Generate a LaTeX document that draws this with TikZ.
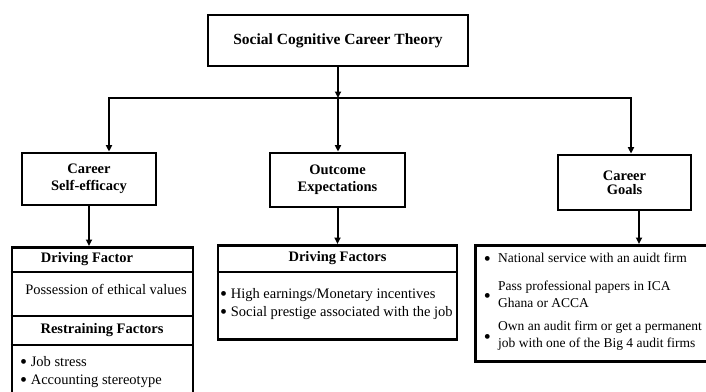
\documentclass[tikz,border=0pt]{standalone}
\usepackage{fontspec}
\setmainfont{Liberation Serif}
\usetikzlibrary{arrows.meta}

\newcommand{\bigdot}{{\fontsize{20}{17}\selectfont\textbullet}}
\newcommand{\lowdot}{\raisebox{-2.5pt}[0pt][0pt]{\bigdot}}

\begin{document}
\begin{tikzpicture}[x=1pt,y=-1pt,
		box/.style={draw,line width=2.8pt,inner sep=0pt,align=center,font=\fontsize{14.5}{17}\selectfont\bfseries},
		arr/.style={line width=2pt,-{Triangle[length=6.5pt,width=6pt]}},
		txt/.style={inner sep=0pt,font=\fontsize{14.5}{18}\selectfont},
		head/.style={inner sep=0pt,font=\fontsize{14.5}{17}\selectfont\bfseries},
		goal/.style={inner sep=0pt,anchor=west,align=left,font=\fontsize{13.5}{17}\selectfont,
			label={[inner sep=0pt,label distance=7pt,yshift=-3pt]left:\bigdot}}]
		\clip (0,0) rectangle (706,391);

		\node[box,minimum width=260pt,minimum height=51pt,font=\fontsize{15.5}{18}\selectfont\bfseries] (sct) at (338,40.5) {Social Cognitive Career Theory};
		\node[box,minimum width=134pt,minimum height=52pt] (cse) at (89,179) {Career\\Self-efficacy};
		\node[box,minimum width=135pt,minimum height=54pt] (oe) at (337.5,180) {Outcome\\Expectations};
		\node[box,minimum width=133pt,minimum height=55pt] (cg) at (624.5,182.5) {Career\\[-3pt]Goals};

		\node[box,minimum width=181pt,minimum height=160pt,anchor=north] (lt) at (102.5,246) {};
		\node[box,minimum width=239pt,minimum height=94pt,anchor=north] (mt) at (337.5,244) {};
		\node[box,minimum width=250pt,minimum height=116pt,anchor=north west] (rt) at (474,244) {};

		\foreach \y in {272,316,345} {\draw[line width=2.4pt] (lt.west |- 0,\y) -- (lt.east |- 0,\y);}
		\draw[line width=2.4pt] (mt.west |- 0,272) -- (mt.east |- 0,272);

		\node[head] (ldf) at (87,259) {Driving Factor};
		\node[txt] (lpe) at (106,289) {Possession of ethical values};
		\node[head] (lrf) at (102,330) {Restraining Factors};
		\node[txt,anchor=west,align=left] (lrl) at (20,372) {\lowdot\ Job stress\\\lowdot\ Accounting stereotype};

		\node[head] (mdf) at (337.5,258) {Driving Factors};
		\node[txt,anchor=west,align=left] (mdl) at (220,304) {\lowdot\ High earnings/Monetary incentives\\\lowdot\ Social prestige associated with the job};

		\node[goal] (g1) at (498,258) {National service with an auidt firm};
		\node[goal] (g2) at (498,294.5) {Pass professional papers in ICA\\Ghana or ACCA};
		\node[goal] (g3) at (498,336) {Own an audit firm or get a permanent\\job with one of the Big 4 audit firms};

		\coordinate (bus) at (sct.south |- 0,98);
		\draw[arr] (sct) -- (bus);
		\draw[arr] (bus) -- (bus |- oe.north);
		\draw[arr] (bus) -| ([xshift=20pt]cse.north);
		\draw[arr] (bus) -| ([xshift=6.5pt]cg.north);
		\draw[arr] (cse) -- (cse.south |- lt.north);
		\draw[arr] (oe) -- (oe.south |- mt.north);
		\draw[arr] ([xshift=14.5pt]cg.south) -- ([xshift=14.5pt]cg.south |- rt.north);
	\end{tikzpicture}
\end{document}
